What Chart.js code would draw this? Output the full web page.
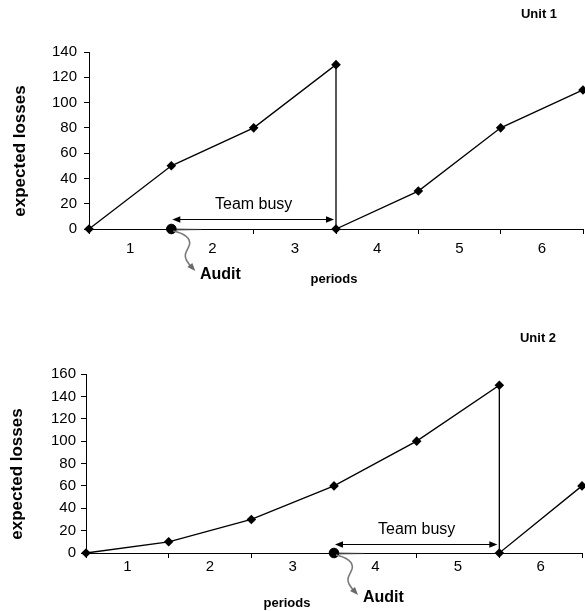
<!DOCTYPE html>
<html><head><meta charset="utf-8">
<script src="https://cdn.jsdelivr.net/npm/chart.js@4.4.1/dist/chart.umd.min.js"></script>
<style>
html,body{margin:0;padding:0;background:#fff;}
#wrap{position:relative;width:585px;height:611px;}
canvas{position:absolute;left:0;}
#c1{top:0;} #c2{top:300px;}
</style></head>
<body><div id="wrap">
<canvas id="c1" width="585" height="300"></canvas>
<canvas id="c2" width="585" height="311"></canvas>
</div>
<script>
// ---- data ----
const periods = ['1', '2', '3', '4', '5', '6'];
const unit1Periods = [0, 1, 2, 3, 3, 4, 5, 6];
const unit1Losses = [0, 50, 80, 130, 0, 30, 80, 110];
const unit2Periods = [0, 1, 2, 3, 4, 5, 5, 6];
const unit2Losses = [0, 10, 30, 60, 100, 150, 0, 60];
const unit1YMax = 140, unit2YMax = 160, yStep = 20;
const unit1Audit = 1, unit1Busy = [1, 3];
const unit2Audit = 3, unit2Busy = [3, 5];
const titles = ['Unit 1', 'Unit 2'];
const yTitle = 'expected losses';
const xTitle = 'periods';
const busyLabel = 'Team busy';
const auditLabel = 'Audit';

const FONT = '"Liberation Sans", Arial, sans-serif';

function arrowHead(ctx, x, y, dir) {
  ctx.beginPath();
  ctx.moveTo(x, y);
  ctx.lineTo(x - dir * 8, y - 3.2);
  ctx.lineTo(x - dir * 8, y + 3.2);
  ctx.closePath();
  ctx.fill();
}

function makeAnnot(o) {
  return {
    id: 'annot' + o.id,
    beforeDatasetsDraw(chart) {
      const {ctx, scales: {x, y}} = chart;
      const ax = x.getPixelForValue(o.audit), ay = y.getPixelForValue(0);
      ctx.save();
      const g = ctx.createLinearGradient(ax, 0, ax + 30, 0);
      g.addColorStop(0, 'rgba(90,90,90,0.8)');
      g.addColorStop(1, 'rgba(170,170,170,0.2)');
      ctx.strokeStyle = g; ctx.lineWidth = 2.5;
      ctx.beginPath(); ctx.moveTo(ax, ay + 0.5); ctx.lineTo(ax + 30, ay + 0.5); ctx.stroke();
      ctx.restore();
    },
    afterDatasetsDraw(chart) {
      const {ctx, scales: {x, y}} = chart;
      const yb = y.getPixelForValue(0);
      const x0 = x.getPixelForValue(o.busy[0]), x1 = x.getPixelForValue(o.busy[1]);
      ctx.save();
      const ya = yb - o.arrowOff;
      ctx.strokeStyle = '#000'; ctx.fillStyle = '#000'; ctx.lineWidth = 1;
      ctx.beginPath(); ctx.moveTo(x0 + 4, ya + 0.5); ctx.lineTo(x1 - 4, ya + 0.5); ctx.stroke();
      arrowHead(ctx, x0 + 1, ya + 0.5, -1);
      arrowHead(ctx, x1 - 2, ya + 0.5, 1);
      ctx.font = '16px ' + FONT; ctx.textAlign = 'center'; ctx.textBaseline = 'middle';
      ctx.fillText(busyLabel, (x0 + x1) / 2, ya - o.textOff);
      const ax = x.getPixelForValue(o.audit);
      ctx.strokeStyle = '#7a7a7a'; ctx.fillStyle = '#6a6a6a'; ctx.lineWidth = 1.6;
      ctx.beginPath();
      ctx.moveTo(ax + 2, yb + 2);
      ctx.bezierCurveTo(ax + 12, yb + 4, ax + 20, yb + 9, ax + 18, yb + 16);
      ctx.bezierCurveTo(ax + 16, yb + 22, ax + 12, yb + 25, ax + 15, yb + 31);
      ctx.lineTo(ax + 19, yb + 37);
      ctx.stroke();
      ctx.beginPath();
      ctx.moveTo(ax + 24, yb + 42);
      ctx.lineTo(ax + 16, yb + 38);
      ctx.lineTo(ax + 21, yb + 34);
      ctx.closePath(); ctx.fill();
      ctx.fillStyle = '#000';
      ctx.font = 'bold 16px ' + FONT; ctx.textAlign = 'left'; ctx.textBaseline = 'middle';
      ctx.fillText(auditLabel, o.auditText[0], o.auditText[1]);
      ctx.font = 'bold 13px ' + FONT; ctx.textAlign = 'center';
      ctx.fillText(xTitle, o.xTitle[0], o.xTitle[1]);
      ctx.fillText(o.title, o.titlePos[0], o.titlePos[1]);
      ctx.save();
      ctx.translate(o.yTitle[0], o.yTitle[1]); ctx.rotate(-Math.PI / 2);
      ctx.font = 'bold 17px ' + FONT;
      ctx.fillText(yTitle, 0, 0);
      ctx.restore();
      ctx.restore();
    }
  };
}

function makeChart(id, o) {
  const canvas = document.getElementById(id);
  return new Chart(canvas, {
    type: 'scatter',
    data: {
      datasets: [
        {
          data: o.xs.map((v, i) => ({x: v, y: o.ys[i]})),
          showLine: true, borderColor: '#000', borderWidth: 1.3,
          pointStyle: 'rectRot', pointRadius: 4.8, pointBackgroundColor: '#000',
          pointBorderColor: '#000', pointBorderWidth: 0, clip: false, tension: 0
        },
        {
          data: [{x: o.audit, y: 0}],
          pointStyle: 'circle', pointRadius: 4.8, pointBackgroundColor: '#000',
          pointBorderColor: '#000', showLine: false, clip: false
        }
      ]
    },
    options: {
      responsive: false, animation: false, devicePixelRatio: 1,
      events: [],
      layout: {autoPadding: false, padding: {left: 0, right: o.padRight, top: o.top, bottom: 0}},
      plugins: {legend: {display: false}, tooltip: {enabled: false}, title: {display: false}},
      scales: {
        x: {
          type: 'linear', min: 0, max: periods.length,
          afterBuildTicks(scale) {
            const t = [];
            for (let i = 0; i <= periods.length * 2; i++) t.push({value: i / 2});
            scale.ticks = t;
          },
          afterFit(scale) {
            scale.height = o.h - o.bottom;
            scale.paddingLeft = 0; scale.paddingRight = 0;
          },
          ticks: {
            autoSkip: false, maxRotation: 0, color: '#000', padding: o.xPad,
            font: {family: FONT, size: 15},
            callback: (v) => (Math.abs(v % 1 - 0.5) < 1e-6 ? periods[Math.floor(v)] : '')
          },
          grid: {
            drawOnChartArea: false, tickLength: 5,
            tickColor: (c) => (c.tick && Math.abs(c.tick.value % 1) < 1e-6 ? '#000' : 'rgba(0,0,0,0)')
          },
          border: {color: '#000', width: 1}
        },
        y: {
          min: 0, max: o.yMax,
          afterFit(scale) {
            scale.width = o.left;
            scale.paddingTop = 0; scale.paddingBottom = 0;
          },
          ticks: {stepSize: yStep, color: '#000', padding: o.yPad, font: {family: FONT, size: 15}},
          grid: {drawOnChartArea: false, tickLength: 5, tickColor: '#000'},
          border: {color: '#000', width: 1}
        }
      }
    },
    plugins: [makeAnnot(o)]
  });
}

makeChart('c1', {
  id: 1, xs: unit1Periods, ys: unit1Losses, yMax: unit1YMax, audit: unit1Audit, busy: unit1Busy,
  h: 300, top: 52, bottom: 229, left: 89, padRight: 2, xPad: 6, yPad: 7,
  arrowOff: 10, textOff: 14, title: titles[0], titlePos: [539, 14],
  auditText: [200, 275], xTitle: [334, 279], yTitle: [20, 151]
});
makeChart('c2', {
  id: 2, xs: unit2Periods, ys: unit2Losses, yMax: unit2YMax, audit: unit2Audit, busy: unit2Busy,
  h: 311, top: 74, bottom: 253, left: 86, padRight: 3, xPad: 0, yPad: 5,
  arrowOff: 9, textOff: 14, title: titles[1], titlePos: [538, 38],
  auditText: [363, 298], xTitle: [287, 303], yTitle: [17, 174]
});
</script>
</body></html>
